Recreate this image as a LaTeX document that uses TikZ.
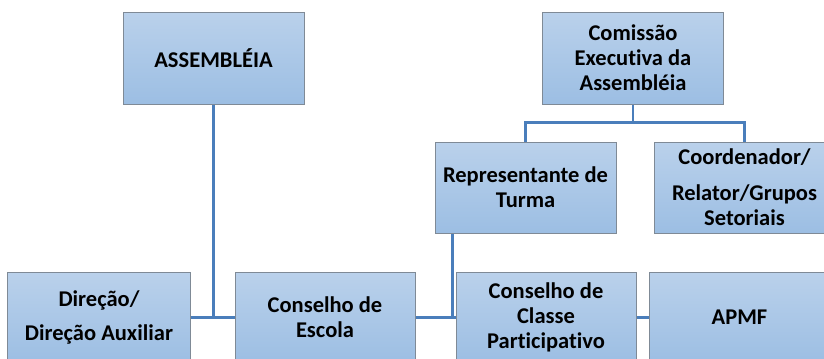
\documentclass[tikz,border=0pt]{standalone}
\usepackage{fontspec}
\usetikzlibrary{calc}
\setmainfont{Carlito}[Ligatures=NoCommon]
\definecolor{boxtop}{HTML}{BAD1EB}
\definecolor{boxbot}{HTML}{9CBEE3}
\definecolor{boxline}{HTML}{7F8A96}
\definecolor{conn}{HTML}{4A7EBB}
\tikzset{
  orgbox/.style={draw=boxline, line width=1bp, top color=boxtop, bottom color=boxbot,
    minimum width=181bp, minimum height=91bp, inner sep=0pt, align=center,
    font=\bfseries\fontsize{22.5bp}{25bp}\selectfont},
  link/.style={draw=conn, line width=2.2bp}
}
\begin{document}
\begin{tikzpicture}[x=1bp,y=-1bp]
\useasboundingbox (0,0) rectangle (824,358);
\clip (0,0) rectangle (824,358);
\node[orgbox, minimum height=92bp] (ass) at (213.5,58) {ASSEMBLÉIA};
\node[orgbox, minimum height=92bp] (com) at (633,58) {Comissão\\Executiva da\\Assembléia};
\node[orgbox] (rep) at (525.5,187.5) {Representante de\\Turma};
\node[orgbox] (coo) at (744.5,187.5) {Coordenador/\\[11bp]Relator/Grupos\\Setoriais};
\node[orgbox, minimum width=182bp] (dir) at (99,317.5) {Direção/\\[9bp]Direção Auxiliar};
\node[orgbox, minimum width=180bp] (esc) at (325,317.5) {Conselho de\\Escola};
\node[orgbox, minimum width=180bp] (cla) at (546,317.5) {Conselho de\\Classe\\Participativo};
\node[orgbox] (apm) at (739.5,317.5) {APMF};
\coordinate (rt) at ($(rep.south west)+(18,0)$);
\draw[link] (ass.south) -- (ass.south |- dir.east);
\draw[link] (dir.east) -- (esc.west);
\draw[link] (esc.east) -- (cla.west);
\draw[link] (rt) -- (rt |- cla.west);
\draw[link] (cla.east) -- (apm.west);
\draw[link] (com.south) -- ++(0,18) -| (rep.north);
\draw[link] (com.south) -- ++(0,18) -| (coo.north);
\end{tikzpicture}
\end{document}
